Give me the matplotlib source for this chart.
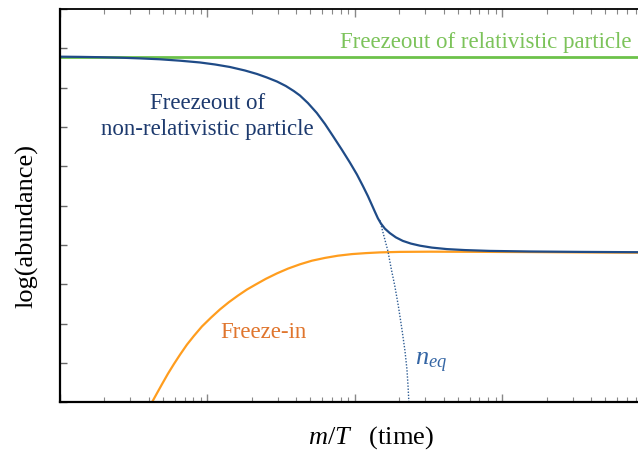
import matplotlib
matplotlib.use("Agg")
import matplotlib.pyplot as plt
from matplotlib.ticker import LogLocator, NullFormatter, MultipleLocator

plt.rcParams["font.family"] = ["Liberation Serif", "DejaVu Serif"]
plt.rcParams["mathtext.fontset"] = "custom"
plt.rcParams["mathtext.rm"] = "Liberation Serif"
plt.rcParams["mathtext.it"] = "Liberation Serif:italic"

# m/T (x) and log(abundance) (y, arbitrary units 0-10)
nr_x = [1.00, 1.37, 1.87, 2.55, 3.48, 4.76, 6.52, 8.89, 11.25, 14.2, 17.95,
        21.7, 25.3, 29.6, 34.0, 38.5, 42.4, 48.0, 55.2, 62.7, 71.0, 81.7,
        92.5, 103.3, 113.2, 122.5, 130.3, 136.8, 143.2, 150.0, 159.6, 172.6,
        189.7, 211.3, 239.9, 276.1, 332.7, 420.7, 557.2, 822.2, 1535, 3350,
        8300]
nr_y = [8.786, 8.781, 8.773, 8.761, 8.743, 8.720, 8.684, 8.639, 8.588, 8.524,
        8.435, 8.346, 8.257, 8.155, 8.041, 7.913, 7.799, 7.608, 7.354, 7.074,
        6.768, 6.417, 6.094, 5.789, 5.501, 5.242, 5.018, 4.840, 4.677, 4.547,
        4.415, 4.300, 4.191, 4.102, 4.033, 3.980, 3.931, 3.893, 3.868, 3.847,
        3.832, 3.822, 3.814]

fi_x = [4.21, 4.55, 4.92, 5.40, 5.93, 6.52, 7.26, 8.09, 9.18, 10.57, 12.16,
        14.0, 16.1, 18.5, 21.3, 24.9, 29.6, 35.2, 42.4, 51.1, 62.7, 76.7,
        95.5, 118.9, 147.6, 201.8, 322, 603, 1535, 3350, 8300]
fi_y = [0.000, 0.229, 0.458, 0.725, 0.972, 1.209, 1.463, 1.684, 1.926, 2.150,
        2.359, 2.545, 2.710, 2.863, 2.995, 3.137, 3.275, 3.397, 3.506, 3.598,
        3.669, 3.725, 3.766, 3.791, 3.809, 3.822, 3.827, 3.824, 3.817, 3.809,
        3.802]

eq_x = [147.6, 157.4, 167.5, 176.6, 186.6, 197.2, 208.4, 218.3, 225.4, 229.6,
        232.3]
eq_y = [4.631, 4.224, 3.842, 3.384, 2.952, 2.443, 1.858, 1.323, 0.840, 0.382,
        0.000]

rel_level = 8.79

fig = plt.figure(figsize=(6.38, 4.52), dpi=100)
ax = fig.add_axes([0.094, 0.108, 0.906, 0.870])

ax.axhline(rel_level, color="#6cc24a", lw=2.0)
ax.plot(fi_x, fi_y, color="#ff9d1e", lw=1.6)
ax.plot(eq_x, eq_y, color="#2f5d94", lw=1.0, ls=(0, (1, 1.2)))
ax.plot(nr_x, nr_y, color="#1f4b87", lw=1.6)

ax.set_xscale("log")
ax.set_xlim(1, 10 ** 3.92)
ax.set_ylim(0, 10)

ax.xaxis.set_major_locator(LogLocator(base=10))
ax.xaxis.set_minor_locator(LogLocator(base=10, subs=range(2, 10)))
ax.xaxis.set_major_formatter(NullFormatter())
ax.xaxis.set_minor_formatter(NullFormatter())
ax.yaxis.set_major_locator(MultipleLocator(1))
ax.yaxis.set_major_formatter(NullFormatter())

ax.tick_params(axis="x", which="major", direction="in", length=6, width=1,
               color="#888888", top=True, bottom=True)
ax.tick_params(axis="x", which="minor", direction="in", length=3.5, width=0.8,
               color="#888888", top=True, bottom=True)
ax.tick_params(axis="y", which="major", direction="in", length=5, width=1,
               color="#666666", left=True, right=False)

for side in ["left", "bottom"]:
    ax.spines[side].set_linewidth(1.6)
ax.spines["top"].set_linewidth(1.3)
ax.spines["right"].set_visible(False)

ax.text(7551, 9.17, "Freezeout of relativistic particle", color="#7cc35a",
        fontsize=16.5, ha="right", va="center")
ax.text(10, 7.62, "Freezeout of", color="#1d3a6e", fontsize=16.5,
        ha="center", va="center")
ax.text(10, 6.96, "non-relativistic particle", color="#1d3a6e", fontsize=16.5,
        ha="center", va="center")
ax.text(23.8, 1.81, "Freeze-in", color="#e0752d", fontsize=16.5,
        ha="center", va="center")
ax.text(327, 1.02, "$n_{eq}$", color="#3465a4", fontsize=19,
        ha="center", va="center")

fig.text(0.042, 0.5, "log(abundance)", rotation=90, fontsize=19,
         ha="center", va="center")
fig.text(0.581, 0.031, "$m/T$   (time)", fontsize=19, ha="center", va="center")

fig.savefig("out.png", dpi=100)
